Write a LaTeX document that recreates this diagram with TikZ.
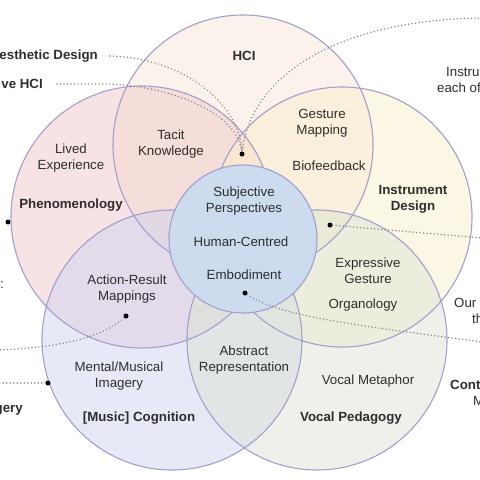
\documentclass[tikz,border=0pt]{standalone}
\usepackage{fontspec}
\setmainfont{Liberation Sans}
\definecolor{hcic}{HTML}{F9E9D9}
\definecolor{phenc}{HTML}{F1C9C9}
\definecolor{instc}{HTML}{FBEFCD}
\definecolor{cogc}{HTML}{D1D5EF}
\definecolor{vocc}{HTML}{DDE5D5}
\definecolor{centc}{HTML}{CDDBEE}
\definecolor{rimc}{HTML}{A39ECF}
\definecolor{dotc}{HTML}{858585}
\begin{document}
\begin{tikzpicture}[x=1pt,y=-1pt,
  lbl/.style={font=\fontsize{13.3}{16}\selectfont, align=center, text=black!82, inner sep=0pt},
  blbl/.style={lbl, font=\fontsize{13.3}{16}\selectfont\bfseries},
  disc/.style={fill opacity=0.5, draw=none},
  rim/.style={draw=rimc, line width=1.1pt},
  leader/.style={draw=dotc, line width=1.6pt, line cap=round, dash pattern=on 0.01pt off 3.5pt},
  pin/.style={circle, fill=black, inner sep=0pt, minimum size=5pt}]
\useasboundingbox (0,0) rectangle (480,480);
\fill[white] (0,0) rectangle (480,480);
% circle fills
\fill[disc, hcic]  (243,145) circle (130);
\fill[disc, phenc] (142,217) circle (131);
\fill[disc, instc] (342,217) circle (130);
\fill[disc, cogc]  (172,340) circle (130);
\fill[disc, vocc]  (317,340) circle (130);
% rims
\draw[rim] (243,145) circle (130);
\draw[rim] (142,217) circle (131);
\draw[rim] (342,217) circle (130);
\draw[rim] (172,340) circle (130);
\draw[rim] (317,340) circle (130);
% centre
\node[circle, fill=centc, draw=rimc, line width=1.1pt, minimum size=148pt, inner sep=0pt] (core) at (243,239) {};
% labels
\node[blbl] (hci) at (244,56) {HCI};
\node[lbl] (gm) at (322,123) {Gesture\\Mapping};
\node[lbl] (bio) at (329,166) {Biofeedback};
\node[lbl] (tacit) at (171,144) {Tacit\\Knowledge};
\node[lbl] (lived) at (71,158) {Lived\\Experience};
\node[blbl] (phen) at (71,205) {Phenomenology};
\node[blbl] (inst) at (413,199) {Instrument\\Design};
\node[lbl] (subj) at (244,201) {Subjective\\Perspectives};
\node[lbl] (hc) at (241,242) {Human-Centred};
\node[lbl] (emb) at (244,275) {Embodiment};
\node[lbl] (expr) at (368,271) {Expressive\\Gesture};
\node[lbl] (org) at (363,305) {Organology};
\node[lbl] (arm) at (127,289) {Action-Result\\Mappings};
\node[lbl] (mmi) at (119,376) {Mental/Musical\\Imagery};
\node[blbl] (cog) at (139,418) {[Music] Cognition};
\node[lbl] (abs) at (244,360) {Abstract\\Representation};
\node[lbl] (vm) at (368,381) {Vocal Metaphor};
\node[blbl] (vp) at (351,418) {Vocal Pedagogy};
% outside labels, cut by the picture's edge as in the reference
\node[blbl, anchor=east] (aes) at (98,56) {esthetic Design};
\node[blbl, anchor=east] (vehci) at (43,84) {ve HCI};
\node[lbl, anchor=west] (instru) at (446,72) {Instru};
\node[lbl, anchor=west] (eachof) at (437,88) {each of};
\node[lbl, anchor=west] (our) at (454,303) {Our};
\node[lbl, anchor=west] (th) at (472,319) {th};
\node[blbl, anchor=west] (cont) at (450,385) {Cont};
\node[lbl, anchor=west] (mm) at (473,401) {M};
\node[lbl, anchor=west] (colon) at (0,285) {:};
\node[blbl, anchor=east] (gery) at (23,410) {gery};
% pins
\node[pin] (pa) at (242,154) {};
\node[pin] (pb) at (330,225) {};
\node[pin] (pc) at (245,293) {};
\node[pin] (pd) at (126,316) {};
\node[pin] (pe) at (48,383) {};
\node[pin] (pf) at (8,222) {};
% free ends
\coordinate (ea) at (110,56);
\coordinate (eb) at (57,84);
\coordinate (ebk) at (108,84);
\coordinate (ec) at (482,18);
\coordinate (ed) at (482,238);
\coordinate (ee) at (482,342);
\coordinate (ef) at (-2,350);
\coordinate (eg) at (-2,383);
% leaders
\draw[leader] (ea) .. controls (185,58) and (240,105) .. (pa);
\draw[leader] (eb) -- (ebk) .. controls (170,86) and (237,112) .. (pa);
\draw[leader] (ec) .. controls (330,20) and (250,80) .. (pa);
\draw[leader] (pb) -- (ed);
\draw[leader] (pc) .. controls (280,318) and (380,328) .. (ee);
\draw[leader] (pd) .. controls (100,340) and (50,348) .. (ef);
\draw[leader] (pe) -- (eg);
\end{tikzpicture}
\end{document}
